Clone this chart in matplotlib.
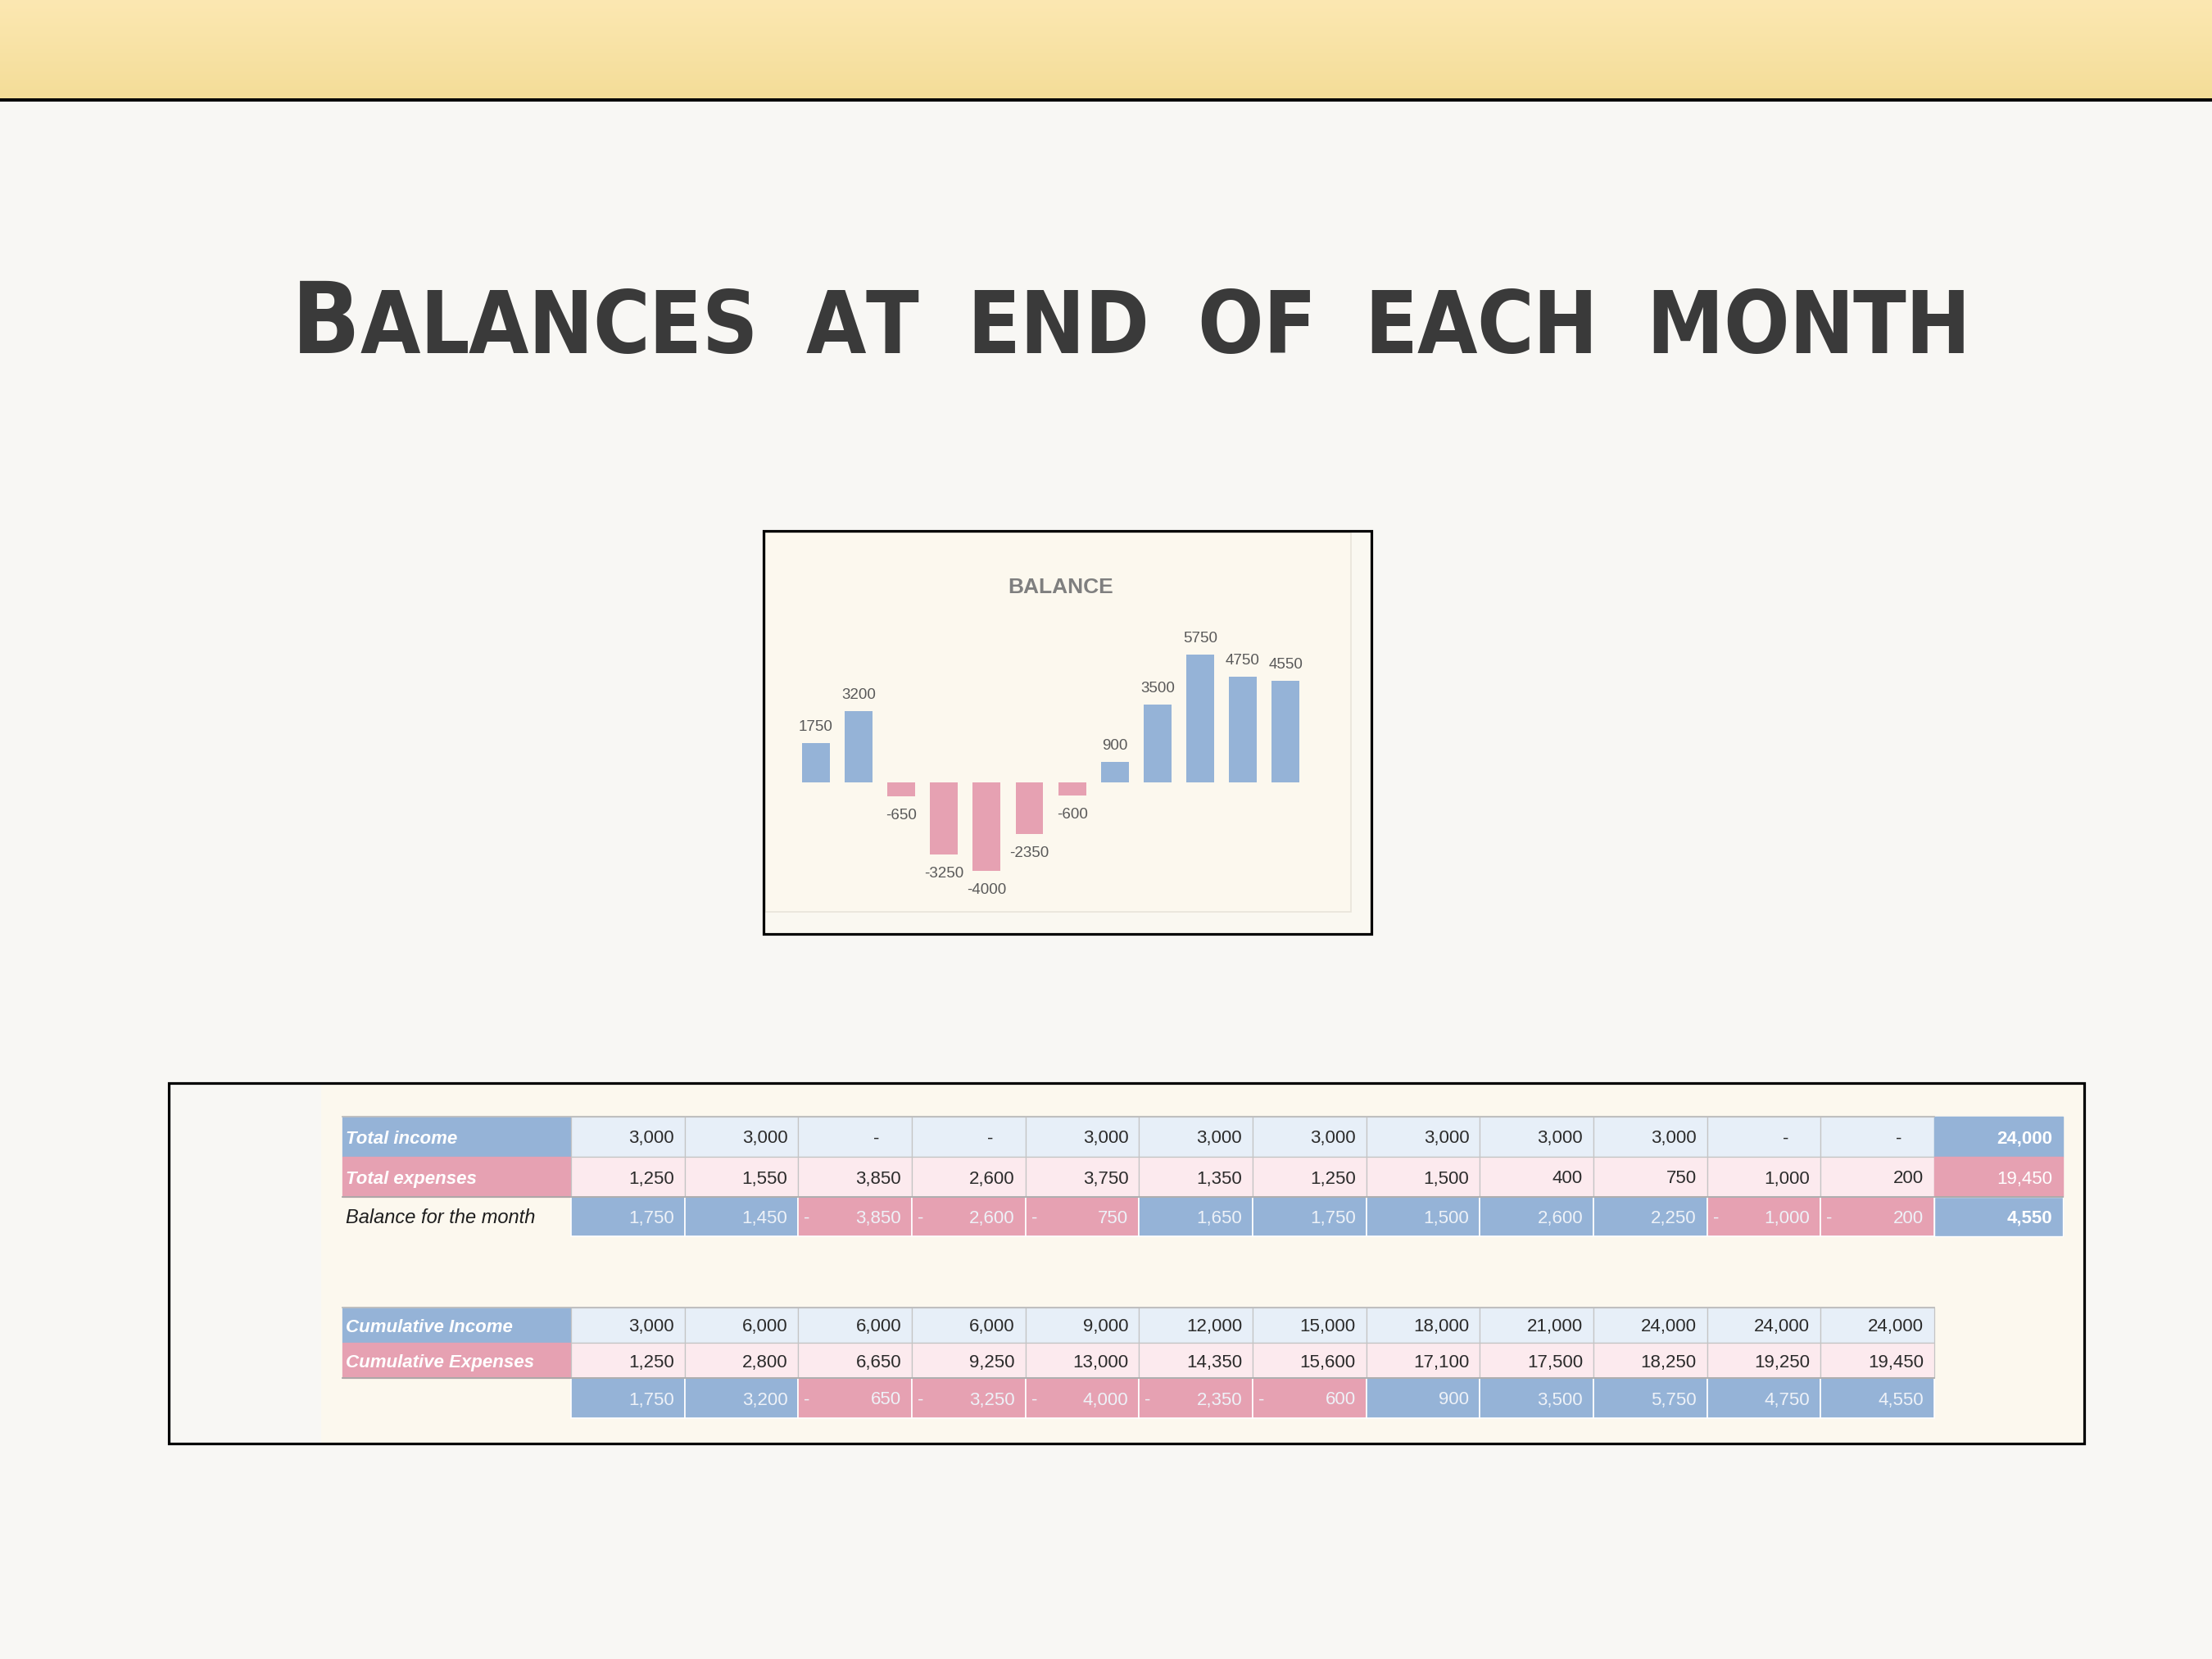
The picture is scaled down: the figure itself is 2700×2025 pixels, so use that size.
import numpy as np
import matplotlib
matplotlib.use('Agg')
import matplotlib.pyplot as plt
from matplotlib import font_manager as fm
from matplotlib.patches import Rectangle

# ---------------- data ----------------
slide_title = "Balances at end of each month"
chart_title = "BALANCE"
cumulative_balance = [1750, 3200, -650, -3250, -4000, -2350, -600, 900, 3500, 5750, 4750, 4550]

total_income = [3000, 3000, 0, 0, 3000, 3000, 3000, 3000, 3000, 3000, 0, 0]
total_expenses = [1250, 1550, 3850, 2600, 3750, 1350, 1250, 1500, 400, 750, 1000, 200]
balance_month = [1750, 1450, -3850, -2600, -750, 1650, 1750, 1500, 2600, 2250, -1000, -200]
year_totals = [24000, 19450, 4550]

cumulative_income = [3000, 6000, 6000, 6000, 9000, 12000, 15000, 18000, 21000, 24000, 24000, 24000]
cumulative_expenses = [1250, 2800, 6650, 9250, 13000, 14350, 15600, 17100, 17500, 18250, 19250, 19450]

block1_labels = ["Total income", "Total expenses", "Balance for the month"]
block2_labels = ["Cumulative Income", "Cumulative Expenses", ""]

# ---------------- style ----------------
PAGE = '#F8F7F4'
CREAM = '#FCF8EE'
BLUE = '#95B3D7'
PINK = '#E6A1B2'
LBLUE = '#E7EFF8'
LPINK = '#FCEAEE'
GRID = '#C4C4C4'

names = {f.name for f in fm.fontManager.ttflist}
BASE = 'Liberation Sans' if 'Liberation Sans' in names else 'DejaVu Sans'

# look for a condensed bold face for the slide title
cands = []
for f in fm.fontManager.ttflist:
    nm = f.name.lower()
    st = str(f.stretch).lower()
    is_cond = ('narrow' in nm or 'condensed' in nm or 'cond' in st or 'narrow' in st)
    try:
        wt = int(f.weight)
    except Exception:
        wt = 700 if 'bold' in str(f.weight).lower() else 400
    if is_cond and wt >= 600 and str(f.style) == 'normal':
        cands.append((abs(wt - 700), f.fname))
if cands:
    cands.sort()
    title_fp = fm.FontProperties(fname=cands[0][1])
    BIG, SMALL = 88, 76
else:
    title_fp = fm.FontProperties(family=BASE, weight='bold')
    BIG, SMALL = 72, 62

W, H = 2700, 2025
fig = plt.figure(figsize=(27, 20.25), dpi=100, facecolor=PAGE)
ax0 = fig.add_axes([0, 0, 1, 1])
ax0.set_facecolor(PAGE)
ax0.axis('off')

# top band gradient
top = np.array([252, 232, 178]) / 255
bot = np.array([244, 221, 152]) / 255
t = np.linspace(0, 1, 200).reshape(-1, 1, 1)
grad = top * (1 - t) + bot * t
ax0.imshow(grad, extent=[0, W, 120, 0], aspect='auto', interpolation='bilinear', zorder=1)
ax0.add_patch(Rectangle((0, 120), W, 4, facecolor='black', edgecolor='none', zorder=2))
ax0.set_xlim(0, W)
ax0.set_ylim(H, 0)

# ---------------- slide title (spaced small caps) ----------------
renderer = fig.canvas.get_renderer()
title_up = slide_title.upper()
texts = []
widths = []
for k, ch in enumerate(title_up):
    if ch == ' ':
        texts.append(None)
        widths.append(0)
        continue
    fp = title_fp.copy()
    fp.set_size(BIG if k == 0 else SMALL)
    tx = ax0.text(0, 431, ch, fontproperties=fp, color='#3A3A3A',
                  ha='left', va='baseline', zorder=5)
    bb = tx.get_window_extent(renderer)
    texts.append(tx)
    widths.append(bb.width)
x_start, x_end = 356, 2405
space_extra = 60
n_spaces = title_up.count(' ')
n_gaps = sum(1 for k in range(len(title_up) - 1)
             if title_up[k] != ' ' and title_up[k + 1] != ' ') + n_spaces
track = (x_end - x_start - sum(widths) - n_spaces * space_extra) / n_gaps
x = x_start
for k, ch in enumerate(title_up):
    if ch == ' ':
        x += space_extra
        continue
    texts[k].set_x(x)
    x += widths[k]
    if k + 1 < len(title_up):
        x += track

# ---------------- chart box ----------------
ax0.add_patch(Rectangle((932, 648), 742, 492, facecolor='#FAF8F1', edgecolor='none', zorder=2))
ax0.add_patch(Rectangle((934, 650), 715, 463, facecolor=CREAM, edgecolor='#E8E4DA', lw=1.2, zorder=2))
ax0.add_patch(Rectangle((932, 648), 742, 492, facecolor='none', edgecolor='black', lw=2.3, zorder=3))
ax0.text(1295, 717, chart_title, fontsize=19, fontfamily=BASE, fontweight='bold',
         color='#7F7F7F', ha='center', va='center', zorder=5)

x0p, x1p, y0p, y1p = 940, 1625, 780, 1100
axc = fig.add_axes([x0p / W, 1 - y1p / H, (x1p - x0p) / W, (y1p - y0p) / H])
axc.patch.set_alpha(0)
axc.axis('off')
idx = np.arange(len(cumulative_balance))
vals = np.array(cumulative_balance)
cols = [BLUE if v >= 0 else PINK for v in vals]
axc.bar(idx, vals, width=0.65, color=cols, edgecolor='none')
pix = 52.1
axc.set_xlim((x0p - 996) / pix, (x1p - 996) / pix)
zero_y, scale = 954.5, 0.0271
axc.set_ylim(-(y1p - zero_y) / scale, (zero_y - y0p) / scale)
for i, v in zip(idx, vals):
    if v >= 0:
        axc.annotate(str(v), xy=(i, v), xytext=(0, 8), textcoords='offset points',
                     ha='center', va='bottom', fontsize=13.5, fontfamily=BASE, color='#595959')
    else:
        axc.annotate(str(v), xy=(i, v), xytext=(0, -11), textcoords='offset points',
                     ha='center', va='top', fontsize=13.5, fontfamily=BASE, color='#595959')

# ---------------- table box ----------------
ax0.add_patch(Rectangle((206, 1322), 2338, 440, facecolor=PAGE, edgecolor='none', zorder=2))
ax0.add_patch(Rectangle((392, 1322), 2152, 440, facecolor=CREAM, edgecolor='none', zorder=2))
ax0.add_patch(Rectangle((206, 1322), 2338, 440, facecolor='none', edgecolor='black', lw=2.3, zorder=6))

HX0, HX1 = 418, 697
CW = (2361 - 697) / 12
TX0, TX1 = 2361, 2518
FS = 16
BL = 8


def fmt(v):
    return '-' if v == 0 else f"{abs(v):,}"


def cell(x, y, w, h, face, edge, lw=0.9):
    ax0.add_patch(Rectangle((x, y), w, h, facecolor=face, edgecolor=edge, lw=lw, zorder=3))


def number(xr, yc, v, color, bold=False, neg_dash=False, xl=None):
    if v == 0:
        ax0.text(xr - 43, yc + BL, '-', fontsize=FS, fontfamily=BASE, color=color,
                 ha='center', va='baseline', zorder=4)
        return
    ax0.text(xr - 13, yc + BL, fmt(v), fontsize=FS, fontfamily=BASE, color=color,
             fontweight='bold' if bold else 'normal', ha='right', va='baseline', zorder=4)
    if neg_dash and v < 0:
        ax0.text(xl + 7, yc + BL, '-', fontsize=FS, fontfamily=BASE, color=color,
                 ha='left', va='baseline', zorder=4)


def draw_block(tops, heights, labels, row_vals, row_kind, totals=None):
    for r, (ytop, h) in enumerate(zip(tops, heights)):
        yc = ytop + h / 2
        kind = row_kind[r]
        if kind == 'inc':
            cell(HX0, ytop, HX1 - HX0, h, BLUE, BLUE)
        elif kind == 'exp':
            cell(HX0, ytop, HX1 - HX0, h, PINK, PINK)
        if labels[r]:
            if kind in ('inc', 'exp'):
                ax0.text(HX0 + 4, yc + BL, labels[r], fontsize=FS, fontfamily=BASE,
                         fontweight='bold', fontstyle='italic', color='white',
                         ha='left', va='baseline', zorder=4)
            else:
                ax0.text(HX0 + 4, yc + BL, labels[r], fontsize=FS + 1, fontfamily=BASE,
                         fontstyle='italic', color='#1E1E1E', ha='left', va='baseline', zorder=4)
        for c, v in enumerate(row_vals[r]):
            xl = HX1 + c * CW
            if kind == 'inc':
                cell(xl, ytop, CW, h, LBLUE, GRID)
                number(xl + CW, yc, v, '#2B2B2B')
            elif kind == 'exp':
                cell(xl, ytop, CW, h, LPINK, GRID)
                number(xl + CW, yc, v, '#2B2B2B')
            else:
                face = BLUE if v >= 0 else PINK
                cell(xl, ytop, CW, h, face, 'white', lw=1.2)
                number(xl + CW, yc, v, '#EEF2F8', neg_dash=True, xl=xl)
        if totals is not None:
            tv = totals[r]
            face = BLUE if (kind != 'exp') else PINK
            cell(TX0, ytop, TX1 - TX0, h, face, 'white' if kind == 'bal' else face, lw=1.0)
            number(TX1, yc, tv, 'white', bold=(kind != 'exp'))
    ax0.plot([HX0, (TX1 if totals is not None else HX1 + 12 * CW)],
             [tops[2], tops[2]], color='#A8A8A8', lw=1.3, zorder=3.5)
    ax0.plot([HX0, HX1 + 12 * CW], [tops[0], tops[0]], color='#BDBDBD', lw=1.3, zorder=3.5)


draw_block([1363, 1412, 1461], [49, 49, 48], block1_labels,
           [total_income, total_expenses, balance_month], ['inc', 'exp', 'bal'], year_totals)
draw_block([1596, 1639, 1682], [43, 43, 49], block2_labels,
           [cumulative_income, cumulative_expenses, cumulative_balance], ['inc', 'exp', 'bal'])

fig.savefig('out.png', dpi=100, facecolor=PAGE)
